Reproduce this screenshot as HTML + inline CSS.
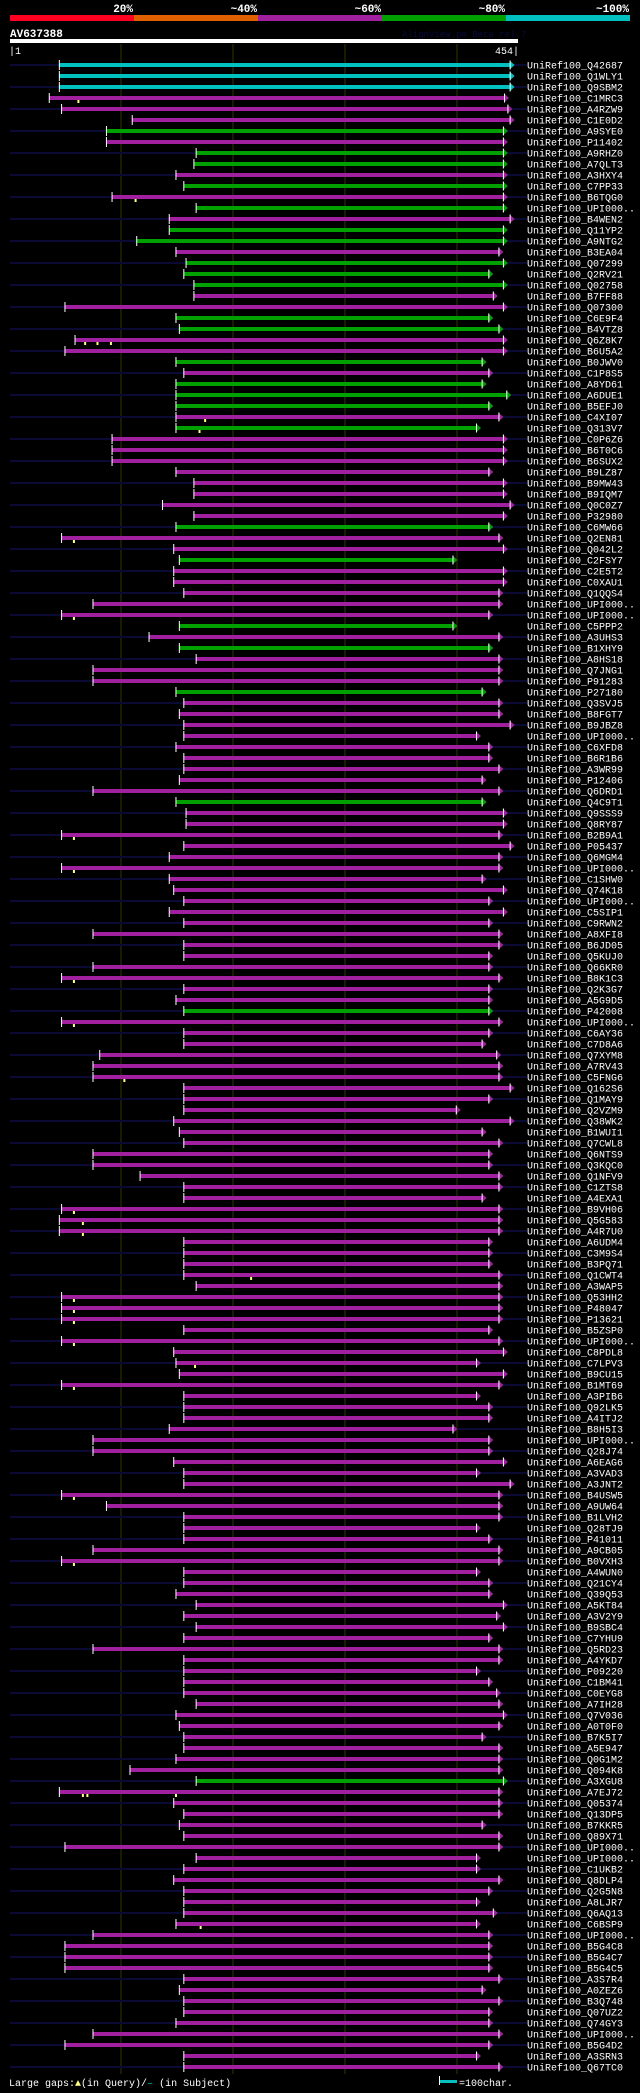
<!DOCTYPE html>
<html><head><meta charset="utf-8"><title>AlignView AV637388</title>
<style>
html,body{margin:0;padding:0;background:#000;}
body{width:640px;height:2093px;overflow:hidden;}
svg{display:block;}
text{font-family:"Liberation Mono","DejaVu Sans Mono",monospace;fill:#fff;}
</style></head>
<body>
<svg id="chart" width="640" height="2093" viewBox="0 0 640 2093" xmlns="http://www.w3.org/2000/svg">
  <g>
    <rect x="10" y="15" width="124" height="6" fill="#ff0022"/>
    <rect x="134" y="15" width="124" height="6" fill="#e06000"/>
    <rect x="258" y="15" width="124" height="6" fill="#a020a0"/>
    <rect x="382" y="15" width="124" height="6" fill="#00a000"/>
    <rect x="506" y="15" width="124" height="6" fill="#00c0c0"/>
    <text x="133" y="12" font-size="11" font-weight="bold" text-anchor="end">20%</text>
    <text x="257" y="12" font-size="11" font-weight="bold" text-anchor="end">~40%</text>
    <text x="381" y="12" font-size="11" font-weight="bold" text-anchor="end">~60%</text>
    <text x="505" y="12" font-size="11" font-weight="bold" text-anchor="end">~80%</text>
    <text x="629" y="12" font-size="11" font-weight="bold" text-anchor="end">~100%</text>
  </g>
  <text x="10" y="37" font-size="11" font-weight="bold">AV637388</text>
  <text x="402" y="37" font-size="9" style="fill:#0a0a40">AlignView.pm Beta rel.7</text>
  <rect x="10" y="39" width="508" height="4" fill="#fff"/>
  <text x="9" y="54" font-size="10">|1</text>
  <text x="519" y="54" font-size="10" text-anchor="end">454|</text>
  <g id="grid"></g>
  <g id="rows"></g>
  <g>
    <text x="9" y="2086" font-size="10">Large gaps:<tspan style="fill:#ffff80">▲</tspan>(in Query)/<tspan style="fill:#00c0c0">–</tspan> (in Subject)</text>
    <rect x="439" y="2076" width="1" height="9" fill="#fff"/>
    <rect x="440" y="2080" width="17" height="3" fill="#00c0c0"/>
    <text x="459" y="2086" font-size="10">=100char.</text>
  </g>
</svg>
<script>
const labels = ["Q42687","Q1WLY1","Q9SBM2","C1MRC3","A4RZW9","C1E0D2","A9SYE0","P11402","A9RHZ0","A7QLT3","A3HXY4","C7PP33","B6TQG0","UPI000..","B4WEN2","Q11YP2","A9NTG2","B3EA04","Q07299","Q2RV21","Q02758","B7FF88","Q07300","C6E9F4","B4VTZ8","Q6Z8K7","B6U5A2","B0JWV0","C1P8S5","A8YD61","A6DUE1","B5EFJ0","C4XI07","Q313V7","C0P6Z6","B6T0C6","B6SUX2",
"B9LZ87","B9MW43","B9IQM7","Q0C0Z7","P32980","C6MW66","Q2EN81","Q042L2","C2FSY7","C2E5T2","C0XAU1","Q1QQS4","UPI000..","UPI000..","C5PPP2","A3UHS3","B1XHY9","A8HS18","Q7JNG1","P91283","P27180","Q3SVJ5","B8FGT7","B9JBZ8","UPI000..","C6XFD8","B6R1B6","A3WR99","P12406","Q6DRD1","Q4C9T1","Q9SSS9","Q8RY87","B2B9A1","P05437","Q6MGM4","UPI000..",
"C1SHW0","Q74K18","UPI000..","C5SIP1","C9RWN2","A8XFI8","B6JD05","Q5KUJ0","Q66KR0","B8K1C3","Q2K3G7","A5G9D5","P42008","UPI000..","C6AY36","C7D8A6","Q7XYM8","A7RV43","C5FNG6","Q162S6","Q1MAY9","Q2VZM9","Q38WK2","B1WUI1","Q7CWL8","Q6NTS9","Q3KQC0","Q1NFV9","C1ZTS8","A4EXA1","B9VH06","Q5G583","A4R7U0","A6UDM4","C3M9S4","B3PQ71","Q1CWT4",
"A3WAP5","Q53HH2","P48047","P13621","B5ZSP0","UPI000..","C8PDL8","C7LPV3","B9CU15","B1MT69","A3PIB6","Q92LK5","A4ITJ2","B8H5I3","UPI000..","Q28J74","A6EAG6","A3VAD3","A3JNT2","B4USW5","A9UW64","B1LVH2","Q28TJ9","P41011","A9CB05","B0VXH3","A4WUN0","Q21CY4","Q39Q53","A5KT84","A3V2Y9","B9SBC4","C7YHU9","Q5RD23","A4YKD7","P09220","C1BM41",
"C0EYG8","A7IH28","Q7V036","A0T0F0","B7K5I7","A5E947","Q0G1M2","Q094K8","A3XGU8","A7EJ72","Q05374","Q13DP5","B7KKR5","Q89X71","UPI000..","UPI000..","C1UKB2","Q8DLP4","Q2G5N8","A8LJR7","Q6AQ13","C6BSP9","UPI000..","B5G4C8","B5G4C7","B5G4C5","A3S7R4","A0ZEZ6","B3Q748","Q07UZ2","Q74GY3","UPI000..","B5G4D2","A3SRN3","Q67TC0"];
const starts = [45,45,45,36,47,110,87,87,167,165,149,156,92,167,143,143,114,149,158,156,165,165,50,149,152,59,50,149,156,149,149,149,149,149,92,92,92,
149,165,165,137,165,149,47,147,152,147,147,156,75,47,152,125,152,167,75,75,149,156,152,156,156,149,156,156,152,75,149,158,158,47,156,143,47,
143,147,156,143,156,75,156,156,75,47,156,149,156,47,156,156,81,75,75,156,156,156,147,152,156,75,75,117,156,156,47,45,45,156,156,156,156,
167,47,47,47,156,47,147,149,152,47,156,156,156,143,75,75,147,156,156,47,87,156,156,156,75,47,156,156,149,167,156,167,156,75,156,156,156,
156,167,149,152,156,156,149,108,167,45,147,156,152,156,50,167,156,147,156,156,156,149,75,50,50,50,156,152,156,156,149,75,50,156,156];
const ends = [451,451,451,446,449,451,445,445,445,445,445,445,445,445,451,445,445,441,445,432,445,436,445,432,441,445,445,426,432,426,448,432,441,421,445,445,445,
432,445,445,451,445,432,441,445,400,445,445,441,441,432,400,441,432,441,441,441,426,441,441,451,421,432,432,441,426,441,426,445,445,441,451,441,441,
426,445,432,445,432,441,441,432,432,441,432,432,432,441,432,426,439,441,441,451,432,403,451,426,441,432,432,441,441,426,441,441,441,432,432,432,441,
441,441,441,441,432,441,445,421,445,441,421,432,432,400,432,432,445,421,451,441,441,441,421,432,441,441,421,432,432,445,439,445,432,441,441,421,432,
439,441,445,441,426,441,441,441,445,441,441,441,426,441,441,421,421,441,432,421,436,421,432,432,432,432,441,426,441,432,432,441,432,421,441];
const cyanRows = [0,1,2];
const greenRows = [6,8,9,11,13,15,16,18,19,20,23,24,27,29,30,31,33,42,45,51,53,57,67,86,156];
const markerRows = [3,12,25,25,25,32,33,43,50,70,73,83,87,92,104,105,106,110,112,113,114,116,118,120,130,136,157,157,157,169];
const markerPos = [62,113,68,79,91,175,170,58,58,58,58,58,58,103,58,66,66,216,58,58,58,58,166,58,58,58,66,70,149,171];
const gridTicks = [100,200,300,400];

const NS = "http://www.w3.org/2000/svg";
const X0 = 10, X1 = 518, QLEN = 454, ROW0 = 65, ROWH = 11;
function xs(r){ return X0 + (r-1)*(X1-X0)/(QLEN-1); }
function ys(i){ return ROW0 + i*ROWH; }
function colorOf(i){ return cyanRows.includes(i) ? "#00c0c0" : (greenRows.includes(i) ? "#00a000" : "#a020a0"); }
function mk(tag, attrs, parent){ const e=document.createElementNS(NS,tag); for(const k in attrs) e.setAttribute(k,attrs[k]); parent.appendChild(e); return e; }

const grid = document.getElementById("grid");
gridTicks.forEach(t=>{
  const l = mk("rect",{x:Math.round(xs(t))-0.5,y:44,width:1,height:2030,fill:"#333300"},grid);
  
  
});

const rowsG = document.getElementById("rows");
labels.forEach((lab,i)=>{
  const y = ys(i);
  const g = mk("g",{},rowsG);
  
  
  if(i%2===0){
    const s = mk("rect",{x:10,y:y-1,width:517,height:2,fill:"#0a0a34"},g);
    
    
  }
  const c = colorOf(i);
  const x1 = xs(starts[i]), x2 = xs(ends[i]);
  const b = mk("rect",{x:x1,y:y-2,width:Math.max(0,x2-5-x1),height:4,fill:c},g);
  
  
  const a = mk("polygon",{points:`${x2-5},${y-4.5} ${x2},${y} ${x2-5},${y+4.5}`,fill:c},g);
  
  
  const ab = mk("rect",{x:x2-5,y:y-4.5,width:1,height:9,fill:"#fff"},g);
  
  
  const tk = mk("rect",{x:x1-0.5,y:y-5,width:1,height:10,fill:"#fff"},g);
  
  
  const t = mk("text",{x:527,y:y+3.5,"font-size":"10"},g);
  t.textContent = "UniRef100_"+lab;
  
  
});
markerRows.forEach((r,k)=>{
  const m = mk("rect",{x:xs(markerPos[k])-1,y:ys(r)+2,width:2,height:3,fill:"#ffff80"},rowsG);
  
  
});
</script>
</body></html>
